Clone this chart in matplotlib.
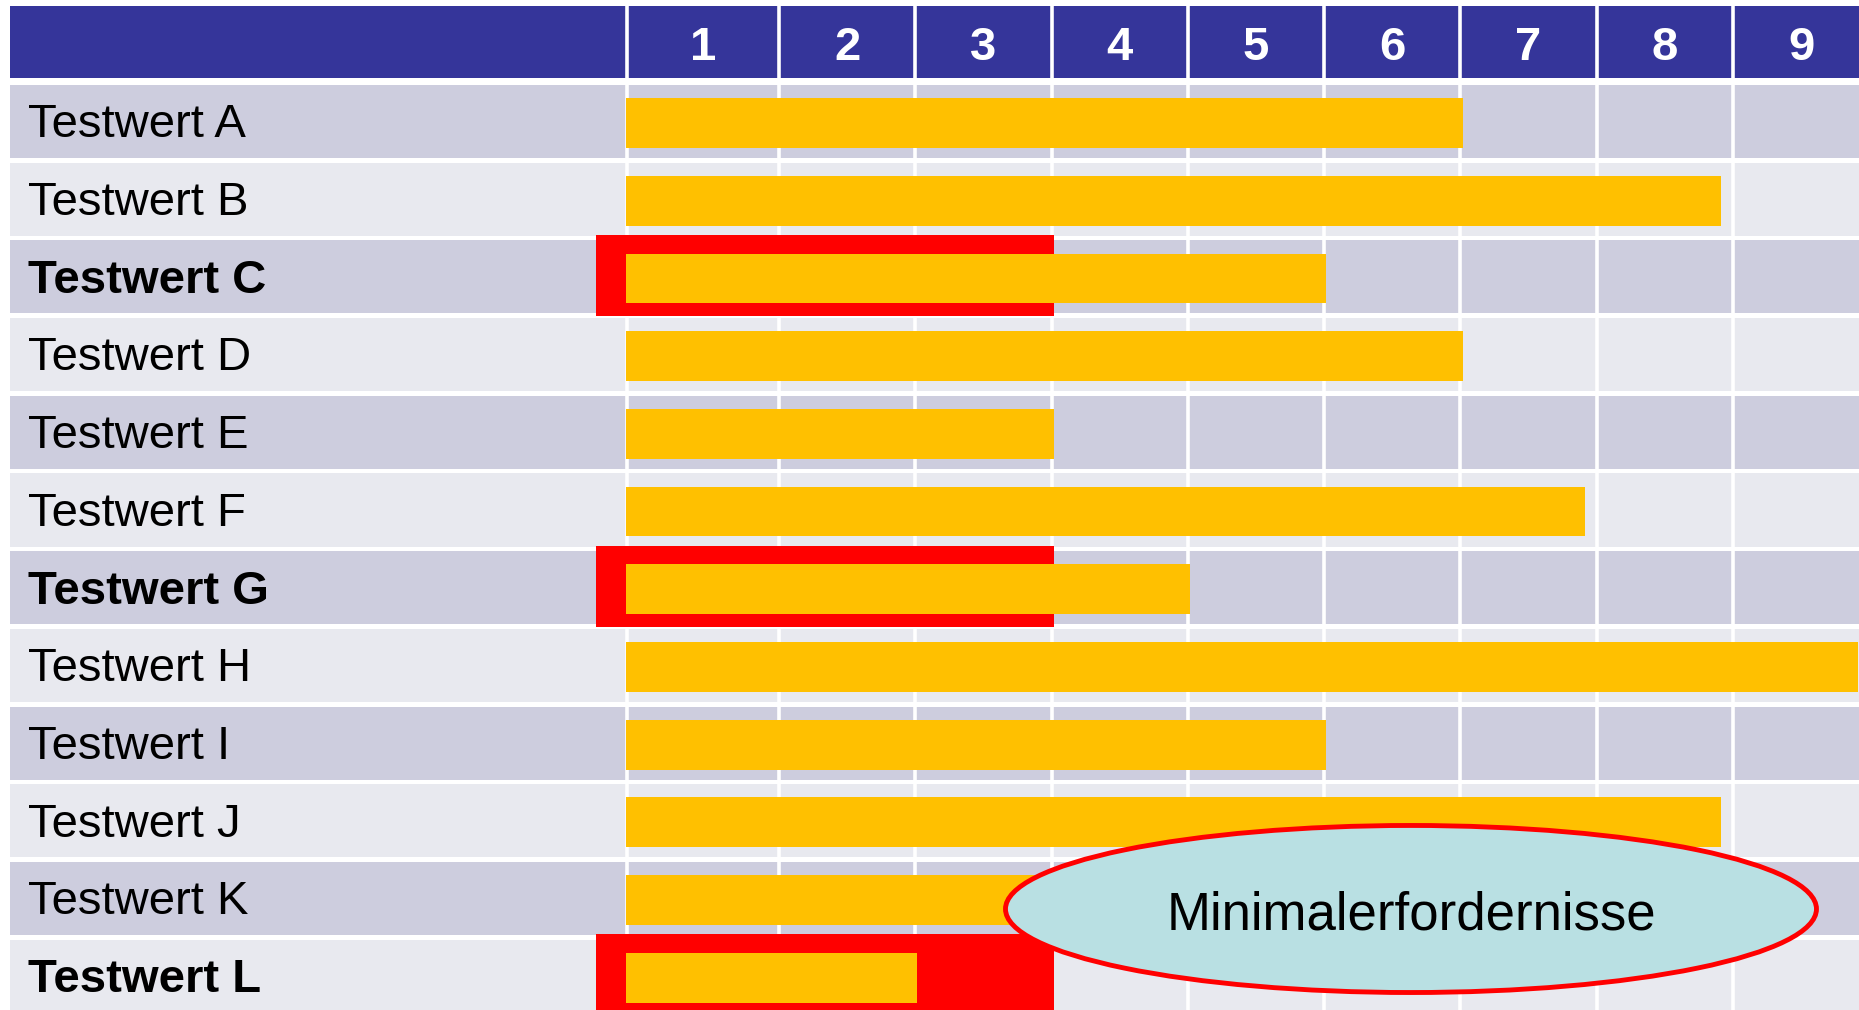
import matplotlib.pyplot as plt
from matplotlib.patches import Ellipse

# data
labels = ["Testwert A", "Testwert B", "Testwert C", "Testwert D", "Testwert E", "Testwert F",
          "Testwert G", "Testwert H", "Testwert I", "Testwert J", "Testwert K", "Testwert L"]
values = [6, 7.9, 5, 6, 3, 6.9, 4, 8.9, 5, 7.9, 4, 2]
highlight = [False, False, True, False, False, False, True, False, False, False, False, True]
columns = [1, 2, 3, 4, 5, 6, 7, 8, 9]
min_level = 3
note = "Minimalerfordernisse"

# colours
header_c = "#35359A"
row_dark = "#CDCDDE"
row_light = "#E8E9EF"
bar_c = "#FFC000"
red = "#FF0000"
ellipse_c = "#B9E0E3"

plt.rcParams['font.family'] = ['Liberation Sans', 'DejaVu Sans']

fig = plt.figure(figsize=(18.59, 10.10), dpi=100)
ax = fig.add_axes([0, 0, 1, 1])
ax.set_xlim(-4.715, 8.924)
ax.set_ylim(11.435, -1.564)
ax.axis('off')

label_left = -4.645
col1_left = -0.107
bar_start = -0.12
box_left = -0.34
right = 9.5

# header
ax.barh(-1.023, right - label_left, left=label_left, height=0.927, color=header_c, zorder=1)
edges = [col1_left] + columns
for c in columns:
    mid = (edges[c - 1] + edges[c]) / 2
    ax.text(mid, -0.95, str(c), color="white", fontsize=34, fontweight="bold",
            ha="center", va="center", zorder=4)

# rows
for i, lab in enumerate(labels):
    ax.barh(i, right - label_left, left=label_left, height=0.94,
            color=row_dark if i % 2 == 0 else row_light, zorder=1)
    ax.text(-4.506, i + 0.05, lab, fontsize=34, va="center", ha="left",
            fontweight="bold" if highlight[i] else "normal", zorder=4)

# column dividers
for x in [-0.113] + columns[:-1]:
    ax.axvline(x, color="white", lw=2.6, zorder=1.5)

# red boxes for minimum requirement
for i, h in enumerate(highlight):
    if h:
        ax.barh(i - 0.02, min_level + 0.02 - box_left, left=box_left, height=1.04,
                color=red, zorder=2)

# bars
ax.barh([i + 0.02 for i in range(len(values))], [v + 0.015 - bar_start for v in values],
        left=bar_start, height=0.64, color=bar_c, zorder=3)

# ellipse note
ell = Ellipse((5.637, 10.135), 5.95, 2.15, facecolor=ellipse_c, edgecolor=red,
              lw=3.5, zorder=5)
ax.add_patch(ell)
ax.text(5.637, 10.22, note, fontsize=38, ha="center", va="center", zorder=6)

fig.savefig("out.png", dpi=100)
